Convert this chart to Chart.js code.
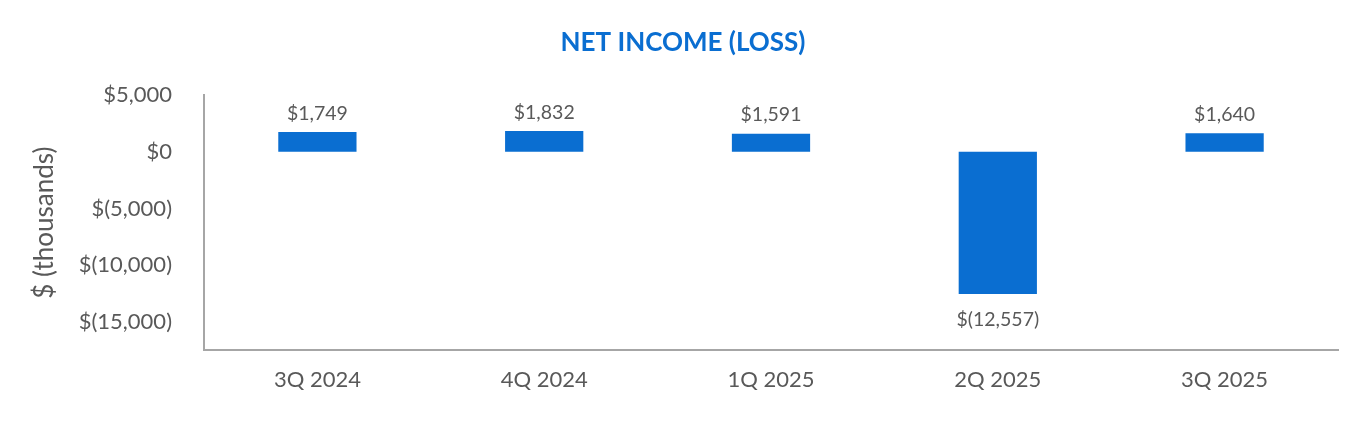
<!DOCTYPE html>
<html>
<head>
<meta charset="utf-8">
<script src="https://cdn.jsdelivr.net/npm/chart.js@4.4.1/dist/chart.umd.min.js"></script>
<style>
  html, body { margin: 0; padding: 0; background: #fff; }
  #wrap { width: 1368px; height: 422px; }
</style>
</head>
<body>
<div id="wrap"><canvas id="net-income-chart"></canvas></div>
<script>
const quarters = ['3Q 2024', '4Q 2024', '1Q 2025', '2Q 2025', '3Q 2025'];
const netIncome = [1749, 1832, 1591, -12557, 1640];
const yTicks = [5000, 0, -5000, -10000, -15000];

const GRAY = '#595959';
const BLUE = '#0a6ed1';
const FONT = 'Lato, "Open Sans", sans-serif';

// money format, negatives in brackets
function money(v) {
	const s = Math.abs(v).toLocaleString('en-US');
	return v < 0 ? '$(' + s + ')' : '$' + s;
}

// draw value over / under each bar
const barLabels = {
	id: 'barLabels',
	afterDatasetsDraw(chart) {
		const ctx = chart.ctx;
		const meta = chart.getDatasetMeta(0);
		ctx.save();
		ctx.font = '19.5px ' + FONT;
		ctx.fillStyle = GRAY;
		ctx.textAlign = 'center';
		meta.data.forEach((bar, i) => {
			const v = netIncome[i];
			if (v >= 0) {
				ctx.textBaseline = 'bottom';
				ctx.fillText(money(v), bar.x, bar.y - 9);
			} else {
				ctx.textBaseline = 'top';
				ctx.fillText(money(v), bar.x, bar.y + 16);
			}
		});
		ctx.restore();
	}
};

const ctx = document.getElementById('net-income-chart').getContext('2d');
const chart = new Chart(ctx, {
	type: 'bar',
	data: {
		labels: quarters,
		datasets: [{
			data: netIncome,
			backgroundColor: BLUE,
			borderWidth: 0,
			categoryPercentage: 1,
			barPercentage: 0.345
		}]
	},
	options: {
		responsive: true,
		maintainAspectRatio: false,
		animation: false,
		// left/right padding balanced so the title sits in the page centre
		layout: { padding: { left: 28, right: 30, top: 0, bottom: 0 } },
		plugins: {
			legend: { display: false },
			tooltip: { enabled: false },
			title: {
				display: true,
				text: 'NET INCOME (LOSS)',
				color: BLUE,
				font: { family: FONT, size: 26, weight: 'bold' },
				padding: { top: 27, bottom: 37 }
			}
		},
		scales: {
			x: {
				grid: { display: false, drawTicks: false },
				border: { display: true, color: '#a6a6a6', width: 2 },
				ticks: { color: GRAY, font: { family: FONT, size: 22 }, padding: 17 },
				afterFit: (scale) => { scale.height = 72; }
			},
			y: {
				min: -17500,
				max: 5000,
				grid: { display: false, drawTicks: false },
				border: { display: true, color: '#a6a6a6', width: 2 },
				afterBuildTicks: (scale) => {
					scale.ticks = yTicks.map(v => ({ value: v }));
				},
				ticks: {
					color: GRAY,
					font: { family: FONT, size: 22 },
					padding: 32,
					callback: (v) => money(v)
				},
				title: {
					display: true,
					text: '$ (thousands)',
					color: GRAY,
					font: { family: FONT, size: 26 },
					padding: { top: 1, bottom: 0 }
				},
				afterFit: (scale) => { scale.width = 176; }
			}
		}
	},
	plugins: [barLabels]
});
</script>
</body>
</html>
